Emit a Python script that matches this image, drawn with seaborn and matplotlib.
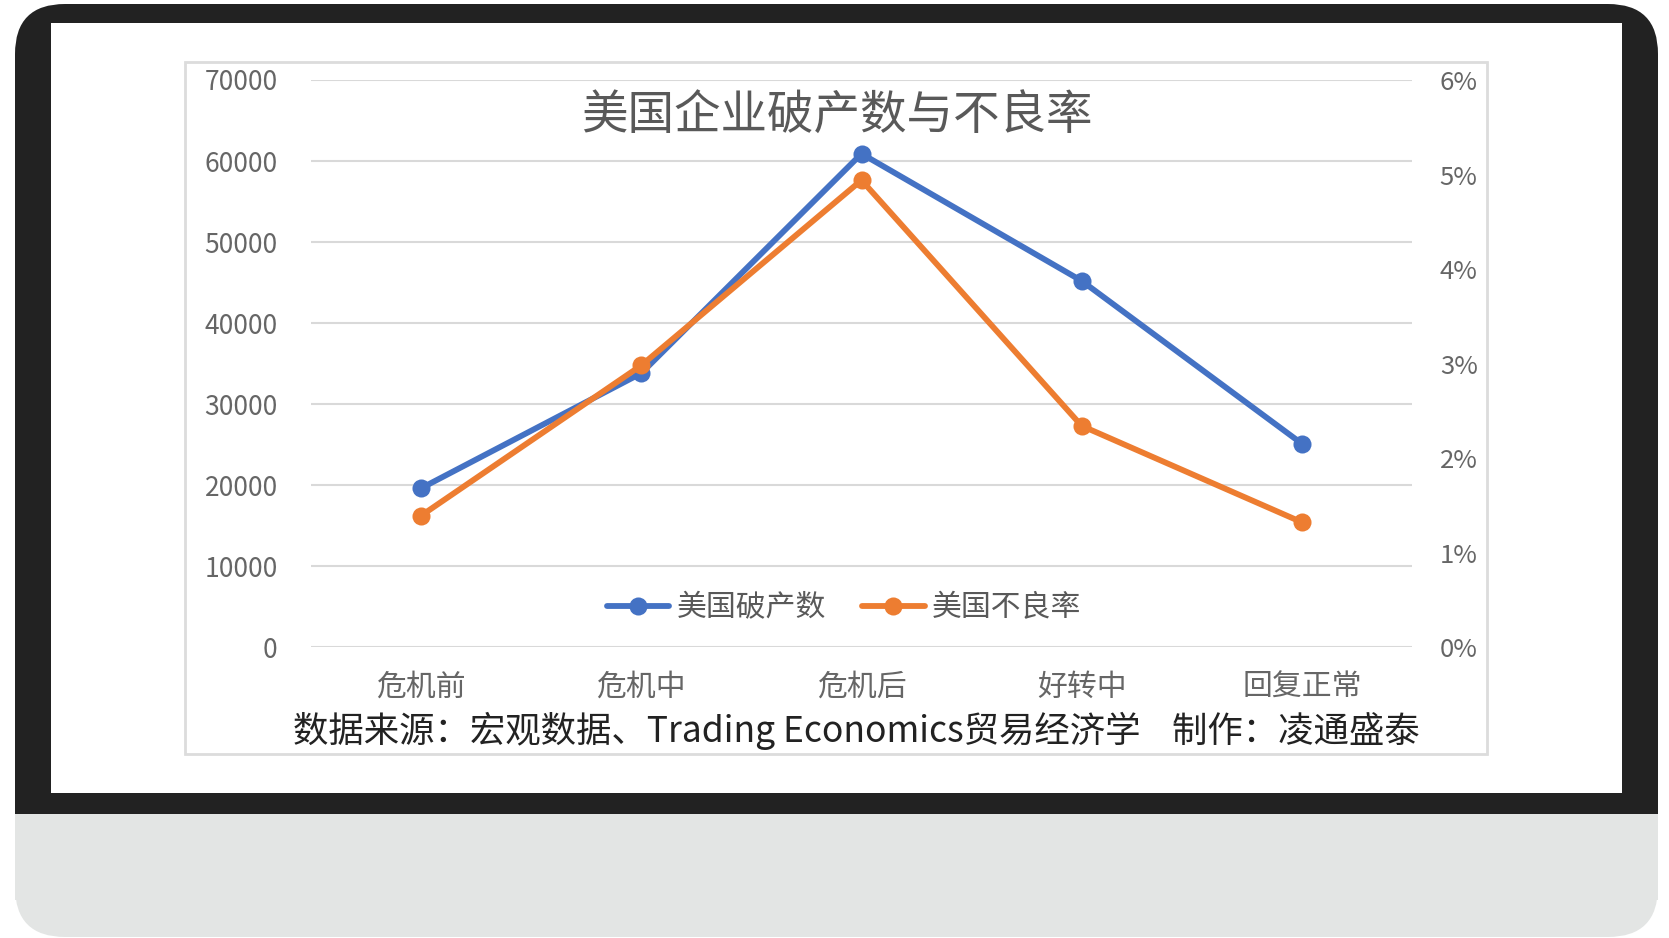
import numpy as np
import pandas as pd
import seaborn as sns
import matplotlib.pyplot as plt
from matplotlib.patches import FancyBboxPatch, Rectangle

# data
stages = ["危机前", "危机中", "危机后", "好转中", "回复正常"]
bankruptcies = [19600, 33800, 60900, 45200, 25100]
npl_rate = [1.39, 2.98, 4.94, 2.34, 1.32]  # percent
left_ticks = [0, 10000, 20000, 30000, 40000, 50000, 60000, 70000]
right_ticks = [0, 1, 2, 3, 4, 5, 6]

df = pd.DataFrame({"stage": stages, "count": bankruptcies, "rate": npl_rate})

sns.set_theme(style="white")
plt.rcParams['font.family'] = ['Noto Sans CJK SC', 'DejaVu Sans']

W, H = 1669, 938
fig = plt.figure(figsize=(W / 100, H / 100), dpi=100, facecolor="white")

def fx(px):
    return px / W

def fy(py):
    return 1 - py / H

# device frame: gray base, dark screen bezel, white screen (drawn behind the axes)
fig.patches.append(FancyBboxPatch((fx(15), fy(937)), fx(1658) - fx(15), fy(4) - fy(937),
                                  boxstyle="round,pad=0,rounding_size=0.03", transform=fig.transFigure,
                                  facecolor="#e3e5e4", edgecolor="none", mutation_aspect=W / H, zorder=-5))
fig.patches.append(FancyBboxPatch((fx(15), fy(900)), fx(1658) - fx(15), fy(4) - fy(900),
                                  boxstyle="round,pad=0,rounding_size=0.03", transform=fig.transFigure,
                                  facecolor="#222222", edgecolor="none", mutation_aspect=W / H, zorder=-4))
fig.patches.append(Rectangle((fx(15), fy(900)), fx(1658) - fx(15), fy(814) - fy(900),
                             transform=fig.transFigure, facecolor="#e3e5e4", edgecolor="none", zorder=-3))
fig.patches.append(Rectangle((fx(51), fy(793)), fx(1622) - fx(51), fy(23) - fy(793),
                             transform=fig.transFigure, facecolor="white", edgecolor="none", zorder=-2))
# chart border
fig.patches.append(Rectangle((fx(185), fy(754)), fx(1487) - fx(185), fy(62) - fy(754),
                             transform=fig.transFigure, facecolor="none", edgecolor="#dcdcdc", lw=2, zorder=-1))

ax = fig.add_axes([fx(311), fy(647), fx(1412) - fx(311), fy(80) - fy(647)])
ax.set_facecolor("none")
ax2 = ax.twinx()

blue = "#4472C4"
orange = "#ED7D31"
sns.lineplot(data=df, x="stage", y="count", ax=ax, color=blue, lw=4.2, marker="o", markersize=13,
             markeredgewidth=0, label="美国破产数", legend=False)
sns.lineplot(data=df, x="stage", y="rate", ax=ax2, color=orange, lw=4.2, marker="o", markersize=13,
             markeredgewidth=0, label="美国不良率", legend=False)

ax.set_xlim(-0.5, 4.5)
ax.set_ylim(0, 70000)
ax2.set_ylim(0, 6)
ax.set_yticks(left_ticks)
ax.set_yticklabels([str(v) for v in left_ticks])
ax2.set_yticks(right_ticks)
ax2.set_yticklabels([f"{v}%" for v in right_ticks])
ax.grid(axis="y", color="#d9d9d9", lw=1.5)
ax.set_axisbelow(True)
for a in (ax, ax2):
    for s in a.spines.values():
        s.set_visible(False)
    a.set_xlabel("")
    a.set_ylabel("")
ax.tick_params(axis="y", length=0, pad=24, labelsize=19, labelcolor="#666666")
ax2.tick_params(axis="y", length=0, pad=20, labelsize=18.5, labelcolor="#666666")
ax.tick_params(axis="x", length=0, pad=18, labelsize=21.5, labelcolor="#666666")

# title inside the plot
fig.text(fx(837), fy(117), "美国企业破产数与不良率", ha="center", va="center", fontsize=33.5, color="#595959")

h1, l1 = ax.get_legend_handles_labels()
h2, l2 = ax2.get_legend_handles_labels()
fig.legend(h1 + h2, l1 + l2, loc="center", bbox_to_anchor=(fx(844), fy(608)), ncol=2, frameon=False,
           fontsize=21.5, labelcolor="#595959", handlelength=2.1, handletextpad=0.25, columnspacing=1.2)

fig.text(fx(856), fy(731), "数据来源：宏观数据、Trading Economics贸易经济学    制作：凌通盛泰",
         ha="center", va="center", fontsize=25.5, color="#222222")

fig.savefig("out.png", dpi=100, facecolor=fig.get_facecolor())
